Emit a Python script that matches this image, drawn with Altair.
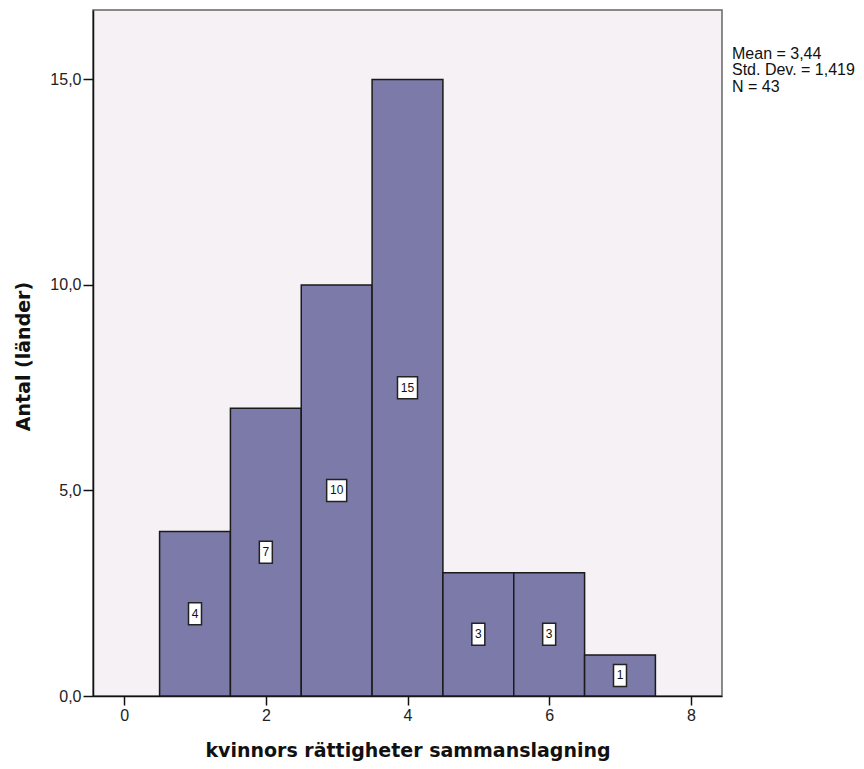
import altair as alt
import pandas as pd

# Data
values = [1, 2, 3, 4, 5, 6, 7]
counts = [4, 7, 10, 15, 3, 3, 1]
x_ticks = [0, 2, 4, 6, 8]
y_ticks = [0, 5, 10, 15]
stat_mean = "3,44"
stat_sd = "1,419"
stat_n = "43"
stats_lines = [f"Mean = {stat_mean}", f"Std. Dev. = {stat_sd}", f"N = {stat_n}"]

df = pd.DataFrame({"v": values, "n": counts})

base = alt.Chart(df).transform_calculate(
    lo="datum.v - 0.5",
    hi="datum.v + 0.5",
    mid="datum.n / 2",
    digits="length(toString(datum.n))",
)

xscale = alt.Scale(domain=[-0.44, 8.44], nice=False, zero=False)
yscale = alt.Scale(domain=[0, 16.69], nice=False)

x_axis = alt.Axis(
    values=x_ticks,
    title="kvinnors rättigheter sammanslagning",
    titleFont="DejaVu Sans",
    titleFontWeight="bold",
    titleFontSize=19,
    titleColor="#111",
    titleY=60,
    titleBaseline="alphabetic",
    labelFont="Liberation Sans",
    labelFontSize=16,
    labelColor="#222",
    labelPadding=2,
    labelFlush=False,
    tickSize=9,
    tickColor="#111",
    tickWidth=1.5,
    domainColor="#111",
    domainWidth=1.5,
    grid=False,
    format="d",
)

y_axis = alt.Axis(
    values=y_ticks,
    labelExpr="replace(format(datum.value, '.1f'), '.', ',')",
    title="Antal (länder)",
    titleFont="DejaVu Sans",
    titleFontWeight="bold",
    titleFontSize=19,
    titleColor="#111",
    titleX=-70,
    titleY=346,
    titleAlign="center",
    titleBaseline="middle",
    labelFont="Liberation Sans",
    labelFontSize=16,
    labelColor="#222",
    labelPadding=2,
    tickSize=10,
    tickColor="#111",
    tickWidth=1.5,
    domainColor="#111",
    domainWidth=1.5,
    grid=False,
)

bars = base.mark_rect(fill="#7B7AA8", stroke="#1a1a1a", strokeWidth=1.5).encode(
    x=alt.X("lo:Q", scale=xscale, axis=x_axis),
    x2="hi:Q",
    y=alt.Y("n:Q", scale=yscale, axis=y_axis),
    y2=alt.datum(0),
)

box_one = "M-0.59,-1 L0.59,-1 L0.59,1 L-0.59,1 Z"
box_two = "M-0.91,-1 L0.91,-1 L0.91,1 L-0.91,1 Z"

boxes = base.mark_point(
    filled=True, fill="white", stroke="#222", strokeWidth=1.5, opacity=1, size=484
).encode(
    x=alt.X("v:Q", scale=xscale),
    y=alt.Y("mid:Q", scale=yscale),
    shape=alt.Shape(
        "digits:N",
        scale=alt.Scale(domain=[1, 2], range=[box_one, box_two]),
        legend=None,
    ),
)

labels = base.mark_text(
    font="Liberation Sans", fontSize=12, color="#111", baseline="middle"
).encode(
    x=alt.X("v:Q", scale=xscale),
    y=alt.Y("mid:Q", scale=yscale),
    text=alt.Text("n:Q"),
)

stats = alt.Chart(pd.DataFrame({"a": [0]})).mark_text(
    font="Liberation Sans",
    fontSize=16,
    align="left",
    baseline="alphabetic",
    lineHeight=16.5,
    color="#111",
).encode(
    x=alt.value(639),
    y=alt.value(48.5),
    text=alt.value(stats_lines),
)

chart = (
    alt.layer(bars, boxes, labels, stats)
    .properties(
        width=629,
        height=686,
        autosize=alt.AutoSizeParams(type="none"),
        padding={"left": 85, "top": 2, "right": 134, "bottom": 65},
    )
    .configure_view(fill="#F5F1F5", stroke="#666", strokeWidth=1.5)
)

chart.save("out.html", embed_options={"renderer": "svg", "actions": False})
